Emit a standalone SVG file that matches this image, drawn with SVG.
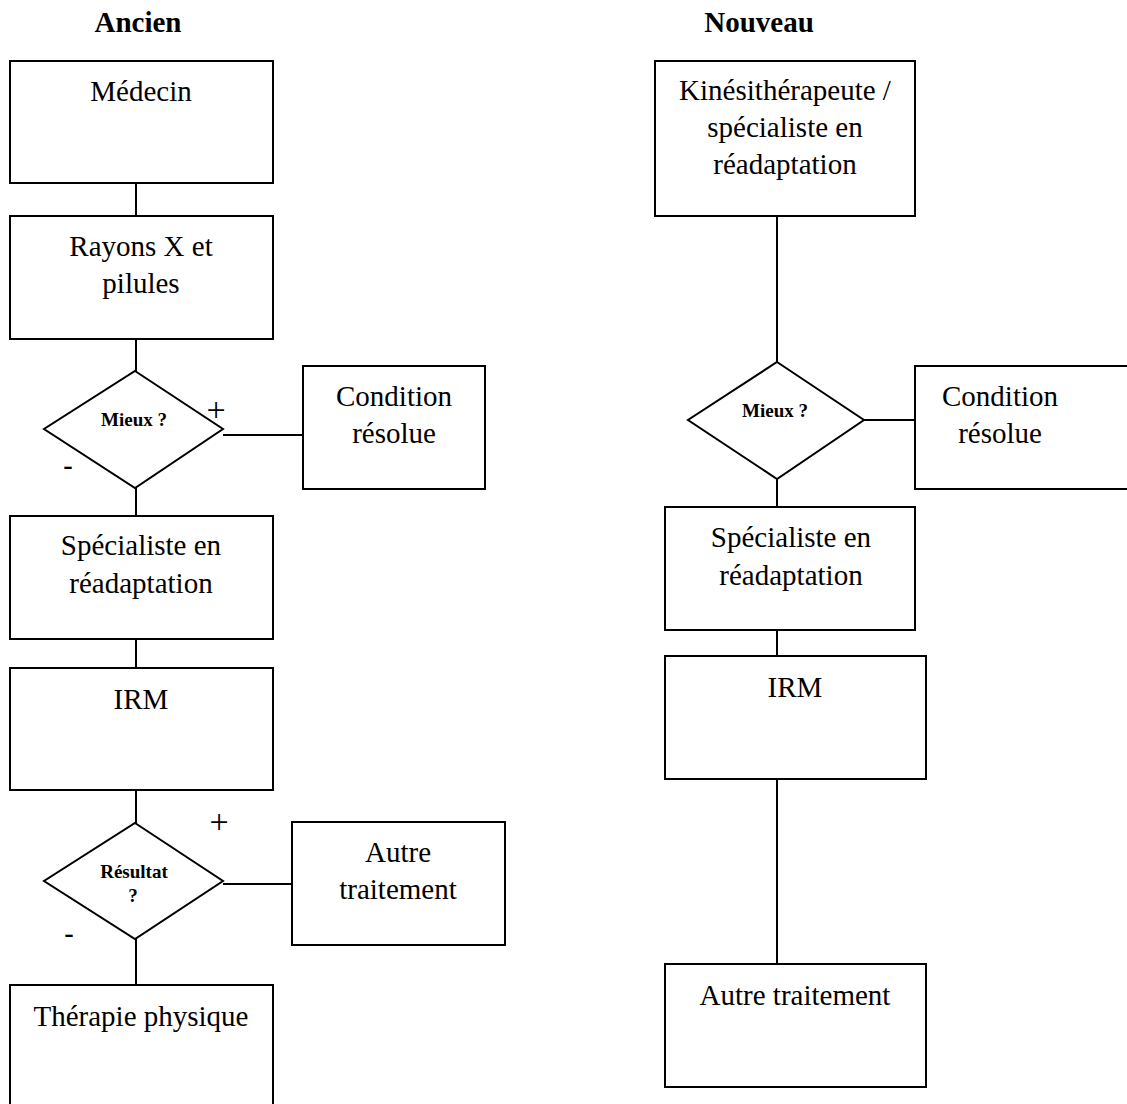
<svg xmlns="http://www.w3.org/2000/svg" width="1127" height="1104" viewBox="0 0 1127 1104">
<style>
.box{fill:#fff;stroke:#000;stroke-width:2}
.dia{fill:#fff;stroke:#000;stroke-width:2}
.con line{stroke:#000;stroke-width:2}
text{font-family:"Liberation Serif","Times New Roman",serif;fill:#000;text-anchor:middle}
.t{font-size:29px}
.h{font-size:29px;font-weight:bold}
.d{font-size:19px;font-weight:bold}
.s{font-size:34px}
.m{font-size:30px;font-family:"Liberation Sans",Arial,sans-serif}
</style>
<rect width="1127" height="1104" fill="#fff"/>
<g id="connectors" class="con">
<line x1="136" y1="183" x2="136" y2="216"/>
<line x1="136" y1="339" x2="136" y2="371"/>
<line x1="223" y1="435" x2="303" y2="435"/>
<line x1="136" y1="488" x2="136" y2="516"/>
<line x1="136" y1="639" x2="136" y2="668"/>
<line x1="136" y1="790" x2="136" y2="823"/>
<line x1="223" y1="884" x2="292" y2="884"/>
<line x1="136" y1="939" x2="136" y2="985"/>
<line x1="777" y1="216" x2="777" y2="362"/>
<line x1="864" y1="420" x2="915" y2="420"/>
<line x1="777" y1="479" x2="777" y2="507"/>
<line x1="777" y1="630" x2="777" y2="656"/>
<line x1="777" y1="775" x2="777" y2="964"/>
</g>
<g id="title-ancien"><text class="h" x="138" y="32">Ancien</text></g>
<g id="title-nouveau"><text class="h" x="759" y="32">Nouveau</text></g>
<g id="medecin"><rect class="box" x="10" y="61" width="263" height="122"/><text class="t" x="141" y="101">Médecin</text></g>
<g id="rayons"><rect class="box" x="10" y="216" width="263" height="123"/><text class="t" x="141" y="256">Rayons X et</text><text class="t" x="141" y="293">pilules</text></g>
<g id="mieux1"><polygon class="dia" points="135,371 223,429 135,488 44,429"/><text class="d" x="134" y="426">Mieux ?</text></g>
<g id="plus1"><text class="s" x="216" y="421">+</text></g>
<g id="minus1"><text class="m" x="68" y="476">-</text></g>
<g id="condition1"><rect class="box" x="303" y="366" width="182" height="123"/><text class="t" x="394" y="406">Condition</text><text class="t" x="394" y="443">résolue</text></g>
<g id="specialiste1"><rect class="box" x="10" y="516" width="263" height="123"/><text class="t" x="141" y="555">Spécialiste en</text><text class="t" x="141" y="593">réadaptation</text></g>
<g id="irm1"><rect class="box" x="10" y="668" width="263" height="122"/><text class="t" x="141" y="709">IRM</text></g>
<g id="resultat"><polygon class="dia" points="135,823 223,881 135,939 44,881"/><text class="d" x="134" y="878">Résultat</text><text class="d" x="133" y="902">?</text></g>
<g id="plus2"><text class="s" x="219" y="833">+</text></g>
<g id="minus2"><text class="m" x="69" y="944">-</text></g>
<g id="autre1"><rect class="box" x="292" y="822" width="213" height="123"/><text class="t" x="398" y="862">Autre</text><text class="t" x="398" y="899">traitement</text></g>
<g id="therapie"><rect class="box" x="10" y="985" width="263" height="130"/><text class="t" x="141" y="1026">Thérapie physique</text></g>
<g id="kine"><rect class="box" x="655" y="61" width="260" height="155"/><text class="t" x="785" y="100">Kinésithérapeute /</text><text class="t" x="785" y="137">spécialiste en</text><text class="t" x="785" y="174">réadaptation</text></g>
<g id="mieux2"><polygon class="dia" points="777,362 864,420 777,479 688,420"/><text class="d" x="775" y="417">Mieux ?</text></g>
<g id="condition2"><rect class="box" x="915" y="366" width="230" height="123"/><text class="t" x="1000" y="406">Condition</text><text class="t" x="1000" y="443">résolue</text></g>
<g id="specialiste2"><rect class="box" x="665" y="507" width="250" height="123"/><text class="t" x="791" y="547">Spécialiste en</text><text class="t" x="791" y="585">réadaptation</text></g>
<g id="irm2"><rect class="box" x="665" y="656" width="261" height="123"/><text class="t" x="795" y="697">IRM</text></g>
<g id="autre2"><rect class="box" x="665" y="964" width="261" height="123"/><text class="t" x="795" y="1005">Autre traitement</text></g>
</svg>
